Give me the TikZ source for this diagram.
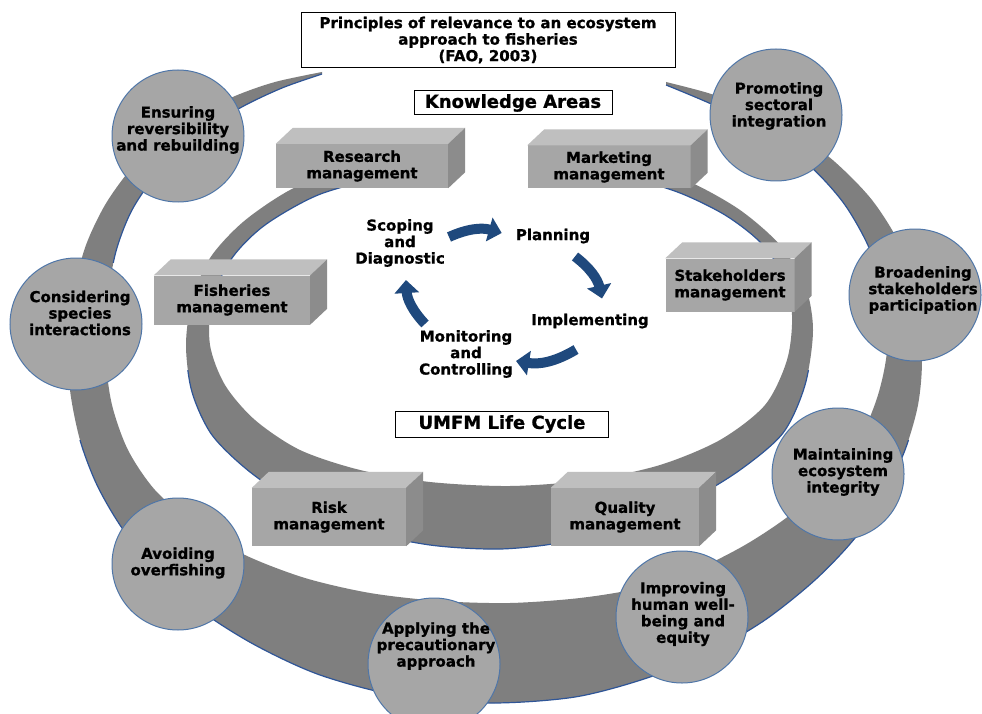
\documentclass[tikz,border=0pt]{standalone}
\usepackage{fontspec}
\setmainfont{DejaVu Sans}[BoldFeatures={FakeBold=1}]
\usetikzlibrary{arrows.meta}

\definecolor{ringgray}{HTML}{7F7F7F}
\definecolor{ringline}{HTML}{2F5597}
\definecolor{discfill}{HTML}{A6A6A6}
\definecolor{discline}{HTML}{4F76A8}
\definecolor{boxfront}{HTML}{A6A6A6}
\definecolor{boxtop}{HTML}{BFBFBF}
\definecolor{boxside}{HTML}{8C8C8C}
\definecolor{cycblue}{HTML}{1F497D}

\tikzset{
  principle/.style={circle, draw=discline, line width=1pt, fill=discfill, minimum size=132pt, inner sep=0pt},
  ptext/.style={align=center, inner sep=0pt},
  karea/.style={fill=boxfront, align=center, inner sep=0pt},
  headbox/.style={draw, line width=1pt, fill=white, align=center, inner sep=0pt},
  stage/.style={align=center, inner sep=1pt},
  cyc/.style={draw=cycblue, line width=10pt, -{Triangle[length=13pt,width=24pt]}, bend left=20}
}

\begin{document}
\begin{tikzpicture}[x=1pt, y=-1pt, every node/.style={font=\bfseries\fontsize{15}{16.5}\selectfont}]
\fill[white] (0,0) rectangle (982,714);
\useasboundingbox (0,0) rectangle (982,714);

% Outer ring
\fill[ringgray] plot[smooth] coordinates {(322,72) (275,82) (235,96) (195,116) (160,140) (130,170) (105,205) (86,245) (74,290) (68,340) (70,390) (80,440) (97,485) (122,528) (155,568) (200,610) (255,645) (320,675) (400,696) (490,703) (575,697) (647,678) (710,652) (765,620) (815,580) (855,538) (885,492) (905,450) (918,405) (922,360) (918,300) (900,245) (872,200) (835,162) (795,132) (750,108) (708,93) (666,82)}
  -- plot[smooth] coordinates {(666,85) (720,108) (768,135) (812,168) (845,205) (870,250) (884,300) (887,350) (878,395) (860,438) (830,478) (790,515) (745,545) (695,570) (640,588) (580,598) (510,603) (440,601) (370,593) (305,578) (245,555) (195,525) (155,490) (128,450) (112,405) (106,360) (107,310) (115,255) (132,210) (160,170) (198,135) (240,108) (282,88) (322,74)} -- cycle;
\begin{scope}
\clip (0,0) rectangle (982,262);
\draw[ringline, line width=1.2pt] plot[smooth] coordinates {(666,85) (720,108) (768,135) (812,168) (845,205) (870,250) (884,300) (887,350) (878,395) (860,438) (830,478) (790,515) (745,545) (695,570) (640,588) (580,598) (510,603) (440,601) (370,593) (305,578) (245,555) (195,525) (155,490) (128,450) (112,405) (106,360) (107,310) (115,255) (132,210) (160,170) (198,135) (240,108) (282,88) (322,74)};
\end{scope}
\begin{scope}
\clip (0,440) rectangle (982,714);
\draw[ringline, line width=1.2pt] plot[smooth] coordinates {(322,72) (275,82) (235,96) (195,116) (160,140) (130,170) (105,205) (86,245) (74,290) (68,340) (70,390) (80,440) (97,485) (122,528) (155,568) (200,610) (255,645) (320,675) (400,696) (490,703) (575,697) (647,678) (710,652) (765,620) (815,580) (855,538) (885,492) (905,450) (918,405) (922,360) (918,300) (900,245) (872,200) (835,162) (795,132) (750,108) (708,93) (666,82)};
\end{scope}

% Principles
\node[principle] (ensuring) at (178,136) {};
\node[principle] (considering) at (76,324) {};
\node[principle] (avoiding) at (178,564) {};
\node[principle] (applying) at (434,664) {};
\node[principle] (improving) at (682,617) {};
\node[principle] (maintaining) at (838,474) {};
\node[principle] (broadening) at (915,295) {};
\node[principle] (promoting) at (776,115) {};
\node[ptext] (ensuring-t) at (178,130) {Ensuring\\reversibility\\and rebuilding};
\node[ptext] (considering-t) at (80,313) {Considering\\species\\interactions};
\node[ptext] (avoiding-t) at (178,563) {Avoiding\\overfishing};
\node[ptext] (applying-t) at (436,646) {Applying the\\precautionary\\approach};
\node[ptext] (improving-t) at (683,614) {Improving\\human well-\\being and\\equity};
\node[ptext] (maintaining-t) at (843,472) {Maintaining\\ecosystem\\integrity};
\node[ptext] (broadening-t) at (923,290) {Broadening\\stakeholders\\participation};
\node[ptext] (promoting-t) at (779,106) {Promoting\\sectoral\\integration};

% Inner ring
\fill[ringgray] plot[smooth] coordinates {(430,160) (345,168) (290,190) (243,222) (210,258) (192,300) (186,345) (192,392) (212,435) (250,472) (300,505) (360,530) (430,545) (500,549) (565,542) (630,525) (690,500) (740,470) (783,433) (805,385) (813,330) (805,285) (780,245) (740,210) (690,182) (635,163) (580,155)}
  -- plot[smooth] coordinates {(580,172) (630,178) (680,193) (725,215) (760,242) (783,275) (792,315) (787,360) (765,405) (720,440) (660,465) (590,480) (510,486) (430,482) (360,470) (300,450) (255,420) (225,385) (210,345) (212,300) (232,258) (265,225) (318,195) (380,178) (430,172)} -- cycle;
\begin{scope}
\clip (0,0) rectangle (982,280);
\draw[ringline, line width=1.2pt] plot[smooth] coordinates {(580,172) (630,178) (680,193) (725,215) (760,242) (783,275) (792,315) (787,360) (765,405) (720,440) (660,465) (590,480) (510,486) (430,482) (360,470) (300,450) (255,420) (225,385) (210,345) (212,300) (232,258) (265,225) (318,195) (380,178) (430,172)};
\end{scope}
\begin{scope}
\clip (0,370) rectangle (982,714);
\draw[ringline, line width=1.2pt] plot[smooth] coordinates {(430,160) (345,168) (290,190) (243,222) (210,258) (192,300) (186,345) (192,392) (212,435) (250,472) (300,505) (360,530) (430,545) (500,549) (565,542) (630,525) (690,500) (740,470) (783,433) (805,385) (813,330) (805,285) (780,245) (740,210) (690,182) (635,163) (580,155)};
\end{scope}

% Knowledge areas
\node[karea, minimum width=172pt, minimum height=44pt] (research) at (362,166) {Research\\management};
\node[karea, minimum width=163pt, minimum height=43pt] (marketing) at (609,167) {Marketing\\management};
\node[karea, minimum width=129pt, minimum height=53pt] (stakeholders) at (730,285) {Stakeholders\\management};
\node[karea, minimum width=156pt, minimum height=49pt] (fisheries) at (232,300) {Fisheries\\management};
\node[karea, minimum width=154pt, minimum height=58pt] (risk) at (329,517) {Risk\\management};
\node[karea, minimum width=148pt, minimum height=58pt] (quality) at (625,517) {Quality\\management};
\foreach \b in {research,marketing,stakeholders,fisheries,risk,quality} {
  \fill[boxtop] (\b.north west) -- ++(17,-16) -- ([shift={(17,-16)}]\b.north east) -- (\b.north east) -- cycle;
  \fill[boxside] (\b.north east) -- ++(17,-16) -- ([shift={(17,-16)}]\b.south east) -- (\b.south east) -- cycle;
}

% Headings
\node[headbox, minimum width=374pt, minimum height=55pt] (principles) at (488,40) {Principles of relevance to an ecosystem\\approach to fisheries\\(FAO, 2003)};
\node[headbox, minimum width=198pt, minimum height=24pt, font=\bfseries\fontsize{18}{20}\selectfont] (areas) at (513,103) {Knowledge Areas};
\node[headbox, minimum width=213pt, minimum height=26pt, font=\bfseries\fontsize{18}{20}\selectfont] (lifecycle) at (502,424) {UMFM Life Cycle};

% Life cycle
\node[stage] (scoping) at (400,243) {Scoping\\and\\Diagnostic};
\node[stage] (planning) at (553,236) {Planning};
\node[stage] (implementing) at (590,321) {Implementing};
\node[stage] (monitoring) at (466,354) {Monitoring\\and\\Controlling};

\draw[cyc] ([xshift=3pt,yshift=6pt]scoping.east) to ([xshift=-13pt,yshift=3pt]planning.west);
\draw[cyc] ([xshift=22pt,yshift=-12pt]planning.south) to ([xshift=12pt,yshift=14pt]implementing.north);
\draw[cyc] ([xshift=-14pt,yshift=-20pt]implementing.south) to ([xshift=2pt,yshift=-7pt]monitoring.east);
\draw[cyc] ([xshift=-41pt,yshift=5pt]monitoring.north) to ([xshift=6pt,yshift=-12pt]scoping.south);
\end{tikzpicture}
\end{document}
